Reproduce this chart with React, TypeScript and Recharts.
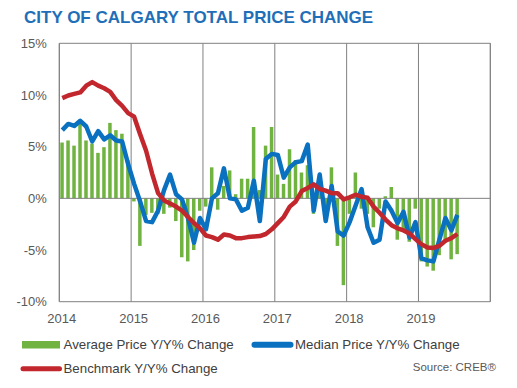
import {
  ComposedChart,
  Bar,
  Line,
  XAxis,
  YAxis,
  CartesianGrid,
  ReferenceLine,
} from "recharts";

const FONT = '"Liberation Sans", Arial, sans-serif';
const GREEN = "#70B340";
const BLUE = "#0A71C0";
const RED = "#C1272D";
const GRID = "#808080";
const TICK = "#595959";

const YEARS = ["2014", "2015", "2016", "2017", "2018", "2019"];
const MONTHS_ON_AXIS = 72;
const Y_TICKS = [-10, -5, 0, 5, 10, 15];

// monthly, Jan 2014 - Jul 2019
const AVERAGE = [
  5.4, 5.6, 5.1, 7.2, 5.6, 5.3, 4.4, 4.95, 7.3, 6.6, 6.25, 3.7,
  -0.3, -4.6, -1.6, -1.4, -1.5, -1.5, -0.9, -2.2, -5.7, -6.1, -5.0, -1.2,
  -0.8, 3.0, -1.1, 1.2, 2.7, 0.4, 1.9, 1.9, 6.9, 0.8, 5.1, 6.9,
  2.3, 1.4, 4.75, 3.7, 2.5, 3.2, -1.5, 1.0, -0.8, 3.0, -4.6, -8.4,
  -1.5, 2.5, -1.0, -1.5, -2.8, -1.0, 0.2, 1.1, -4.0, -3.0, -4.2, -1.0,
  -6.1, -6.6, -7.0, -5.5, -4.3, -5.9, -5.4,
];
const MEDIAN = [
  6.6, 7.2, 7.0, 7.5, 6.95, 5.5, 6.5, 5.7, 6.1, 5.6, 5.5, 3.3,
  1.4, -0.3, -2.2, -2.3, -1.2, 0.8, 2.3, 0.4, -0.1, -1.9, -4.3, -1.9,
  -3.0, 0.0, 0.5, 2.9, 0.0, -0.1, -1.2, -0.9, 1.7, -2.2, 3.8, 4.3,
  4.2, 2.0, 3.0, 3.5, 3.6, 5.2, -1.2, 2.3, -2.2, 1.2, -3.2, -3.6,
  -2.3, -0.7, 0.9, -2.8, -4.3, -4.0, -0.3, -1.2, -2.4, -1.3, -3.8, -2.3,
  -5.8, -6.0, -6.1, -4.0, -1.9, -3.1, -1.6,
];
const BENCHMARK = [
  9.7, 9.95, 10.1, 10.25, 10.9, 11.25, 10.9, 10.65, 10.3, 9.5, 8.95, 8.25,
  7.9, 6.2, 4.6, 2.4, 0.5, -0.2, -0.5, -0.8, -1.2, -1.8, -2.4, -2.9,
  -3.6, -3.75, -4.0, -3.5, -3.6, -3.85, -3.85, -3.75, -3.7, -3.65, -3.45, -3.0,
  -2.4, -1.8, -0.8, -0.3, 0.7, 1.0, 1.35, 0.9, 0.75, 0.5, 0.5, -0.1,
  0.1, 0.35, 0.15, 0.05, -0.8, -1.4, -2.05, -2.6, -2.9, -3.1, -3.4, -3.95,
  -4.45, -4.75, -4.8, -4.6, -4.1, -3.85, -3.45,
];

const X_TICKS = [...YEARS.map((_, i) => i * 12), MONTHS_ON_AXIS];

const data = AVERAGE.map((v, i) => ({
  m: i + 0.5,
  average: v,
  median: MEDIAN[i],
  benchmark: BENCHMARK[i],
}));

export default function App() {
  return (
    <div
      style={{
        position: "absolute",
        left: 0,
        top: 0,
        width: 517,
        height: 388,
        background: "#fff",
        fontFamily: FONT,
      }}
    >
      <ComposedChart
        width={517}
        height={388}
        data={data}
        margin={{ top: 43.3, right: 26.7, bottom: 56.3, left: 9.3 }}
      >
        <CartesianGrid horizontal={false} stroke={GRID} />
        <XAxis
          type="number"
          dataKey="m"
          domain={[0, MONTHS_ON_AXIS]}
          ticks={X_TICKS}
          tickFormatter={(v: number) => (v >= MONTHS_ON_AXIS ? "" : YEARS[v / 12])}
          height={30}
          axisLine={{ stroke: GRID }}
          tickLine={false}
          tickSize={0}
          tickMargin={12}
          tick={{ fontSize: 13, fill: TICK, fontFamily: FONT, dx: 2.5 }}
        />
        <YAxis
          type="number"
          domain={[-10, 15]}
          ticks={Y_TICKS}
          tickFormatter={(v: number) => `${v}%`}
          width={50}
          axisLine={{ stroke: GRID }}
          tickLine={false}
          tickSize={0}
          tickMargin={12.5}
          tick={{ fontSize: 13, fill: TICK, fontFamily: FONT }}
        />
        <ReferenceLine y={15} stroke={GRID} />
        <ReferenceLine x={MONTHS_ON_AXIS} stroke={GRID} />
        <ReferenceLine y={0} stroke={GRID} />
        <Bar dataKey="average" fill={GREEN} barSize={3.5} isAnimationActive={false} />
        <Line
          type="linear"
          dataKey="median"
          stroke={BLUE}
          strokeWidth={4.5}
          strokeLinejoin="round"
          dot={false}
          activeDot={false}
          isAnimationActive={false}
        />
        <Line
          type="linear"
          dataKey="benchmark"
          stroke={RED}
          strokeWidth={4.5}
          strokeLinejoin="round"
          dot={false}
          activeDot={false}
          isAnimationActive={false}
        />
      </ComposedChart>
      <svg
        width={517}
        height={388}
        style={{ position: "absolute", left: 0, top: 0, pointerEvents: "none" }}
        fontFamily={FONT}
      >
        <text x={24} y={23.3} fontSize={17} fontWeight="bold" fill="#1F6FB8">
          CITY OF CALGARY TOTAL PRICE CHANGE
        </text>
        <rect x={22} y={341} width={38} height={7.5} fill={GREEN} />
        <text x={63.5} y={349.3} fontSize={13.3} fill="#404040">
          Average Price Y/Y% Change
        </text>
        <line x1={254.5} y1={344.7} x2={290.5} y2={344.7} stroke={BLUE} strokeWidth={6} strokeLinecap="round" />
        <text x={295} y={349.3} fontSize={13.3} fill="#404040">
          Median Price Y/Y% Change
        </text>
        <line x1={23} y1={368.7} x2={59.5} y2={368.7} stroke={RED} strokeWidth={5} strokeLinecap="round" />
        <text x={63.5} y={373.3} fontSize={13.3} fill="#404040">
          Benchmark Y/Y% Change
        </text>
        <text x={496} y={370.5} fontSize={11.5} fill={TICK} textAnchor="end">
          Source: CREB®
        </text>
      </svg>
    </div>
  );
}
